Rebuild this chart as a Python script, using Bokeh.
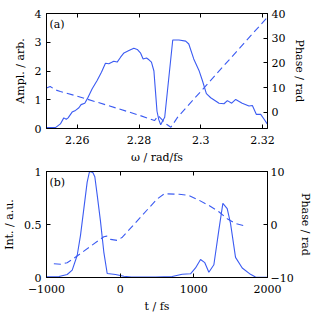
from bokeh.plotting import figure
from bokeh.layouts import column
from bokeh.models import (Range1d, LinearAxis, FixedTicker, CustomJSTickFormatter, Label,
                          CustomLabelingPolicy)
from bokeh.embed import file_html
from bokeh.resources import INLINE

# ---- Panel (a): spectral amplitude and phase ----
omega_amp = [2.2500, 2.2529, 2.2545, 2.2556, 2.2564, 2.2570, 2.2583, 2.2594, 2.2605, 2.2612,
             2.2624, 2.2632, 2.2648, 2.2664, 2.2678, 2.2691, 2.2702, 2.2713, 2.2718, 2.2729,
             2.2740, 2.2751, 2.2767, 2.2783, 2.2794, 2.2805, 2.2813, 2.2824, 2.2832, 2.2840,
             2.2848, 2.2853, 2.2858, 2.2864, 2.2870, 2.2877, 2.2883, 2.2909, 2.2929, 2.2951,
             2.2961, 2.2977, 2.2994, 2.3005, 2.3018, 2.3032, 2.3059, 2.3075, 2.3086, 2.3100,
             2.3113, 2.3134, 2.3156, 2.3167, 2.3180, 2.3194, 2.3204, 2.3215]
amplitude = [0.03, 0.03, 0.16, 0.37, 0.32, 0.37, 0.57, 0.63, 0.72, 0.83,
             0.88, 1.03, 1.38, 1.67, 1.96, 2.27, 2.25, 2.31, 2.34, 2.31,
             2.48, 2.63, 2.71, 2.79, 2.75, 2.62, 2.42, 2.45, 2.39, 2.31,
             2.00, 1.30, 0.60, 0.30, 0.13, 0.28, 0.39, 3.08, 3.08, 3.04,
             2.94, 2.42, 2.02, 1.67, 1.21, 1.07, 0.88, 0.86, 0.97, 0.88,
             1.01, 0.88, 0.78, 0.80, 0.49, 0.49, 0.34, 0.16]
omega_phase = [2.2500, 2.2512, 2.2530, 2.2545, 2.2600, 2.2700, 2.2800, 2.2850, 2.2862,
               2.2890, 2.2903, 2.2925, 2.3215]
phase_a = [9.8, 10.4, 9.0, 8.4, 6.5, 2.7, -1.2, -3.4, -1.4, -5.0, -6.1, -2.0, 38.4]

xticks_a = [2.26, 2.28, 2.3, 2.32]
yticks_a = [0, 1, 2, 3, 4]
y2ticks_a = [0, 10, 20, 30, 40]

# ---- Panel (b): temporal intensity and phase ----
t_int = [-1000, -830, -719, -651, -583, -538, -493, -448, -416, -371, -344, -312, -267, -222,
         -176, -63, 50, 150, 480, 706, 842, 955, 1023, 1091, 1149, 1204, 1272, 1340, 1394,
         1453, 1498, 1566, 1657, 1769, 1837, 2000]
intensity = [0.007, 0.01, 0.028, 0.07, 0.21, 0.40, 0.65, 0.90, 1.0, 0.99, 0.95, 0.78, 0.53, 0.24,
             0.038, 0.028, 0.012, 0.005, 0.005, 0.01, 0.03, 0.035, 0.09, 0.17, 0.14, 0.05, 0.12,
             0.45, 0.70, 0.65, 0.51, 0.19, 0.09, 0.03, 0.005, 0.003]
t_phase = [-900, -800, -720, -650, -222, -180, -130, -40, 30, 500, 600, 800, 930, 1068,
           1204, 1340, 1453, 1566, 1720]
phase_b = [-7.4, -7.5, -7.2, -6.6, -2.3, -2.2, -2.8, -3.0, -2.4, 4.8, 5.8, 5.7, 5.5, 4.6,
           3.6, 2.4, 1.1, 0.2, -0.4]

xticks_b = [-1000, 0, 1000, 2000]
yticks_b = [0, 0.5, 1]
y2ticks_b = [-10, 0, 10]

FONT = "DejaVu Serif"
FS = "11px"
BLUE = "#3b5bf2"


def fmt():
    return CustomJSTickFormatter(code="return String(tick).replace('-', '\u2212');")


def style_axis(ax, ticks, show_labels=True):
    ax.ticker = FixedTicker(ticks=ticks)
    ax.formatter = fmt()
    if show_labels:
        ax.major_label_text_font_size = FS
    else:
        ax.major_label_text_font_size = "1px"
        ax.major_label_policy = CustomLabelingPolicy(
            code="for (const i of Array.from(indices)) { indices.unset(i) }")
    ax.major_tick_in = 4
    ax.major_tick_out = 0
    ax.minor_tick_line_color = None
    ax.axis_line_color = "black"
    ax.major_tick_line_color = "black"
    ax.major_label_text_font = FONT
    ax.major_label_text_color = "black"
    ax.axis_label_text_font = FONT
    ax.axis_label_text_font_size = FS
    ax.axis_label_text_font_style = "normal"
    ax.axis_label_text_color = "black"


def panel(xr, yr, y2r, xt, yt, y2t, xlabel, ylabel, y2label, tag, fh, top, bottom,
          r_std, r_lbl_std):
    p = figure(frame_width=221, frame_height=fh,
               x_range=Range1d(*xr), y_range=Range1d(*yr),
               output_backend="svg", toolbar_location=None,
               min_border_left=46, min_border_right=45,
               min_border_top=top, min_border_bottom=bottom)
    p.extra_y_ranges = {"ph": Range1d(*y2r)}
    p.grid.visible = False
    p.outline_line_color = "black"
    p.background_fill_color = "white"
    p.border_fill_color = "white"

    style_axis(p.xaxis[0], xt)
    p.xaxis.axis_label = xlabel
    p.xaxis.major_label_standoff = 7
    p.xaxis.axis_label_standoff = 4

    style_axis(p.yaxis[0], yt)
    p.yaxis.axis_label = ylabel
    p.yaxis.major_label_standoff = 5
    p.yaxis.axis_label_standoff = 5

    ra = LinearAxis(y_range_name="ph", axis_label=y2label)
    style_axis(ra, y2t)
    ra.major_label_standoff = r_std
    ra.axis_label_standoff = r_lbl_std
    p.add_layout(ra, "right")

    ta = LinearAxis()
    style_axis(ta, xt, show_labels=False)
    ta.major_label_standoff = 0
    p.add_layout(ta, "above")

    p.add_layout(Label(x=xr[0], y=yr[1], x_offset=3, y_offset=-4, text=tag,
                       text_baseline="top", text_font=FONT, text_font_size=FS,
                       text_color="black"))
    return p


p1 = panel((2.25, 2.3216), (0, 4), (-6.6, 40), xticks_a, yticks_a, y2ticks_a,
           "\u03c9 / rad/fs", "Ampl. / arb.", "Phase / rad", "(a)", 115, 13, 38, 4, 5)
p1.line(omega_amp, amplitude, line_color=BLUE, line_width=1.1)
p1.line(omega_phase, phase_a, y_range_name="ph", line_color=BLUE, line_width=1.1,
        line_dash="7 4")

p2 = panel((-1000, 2000), (0, 1), (-10, 10), xticks_b, yticks_b, y2ticks_b,
           "t / fs", "Int. / a.u.", "Phase / rad", "(b)", 106, 5, 36, 3, 2)
p2.line(t_int, intensity, line_color=BLUE, line_width=1.1)
p2.line(t_phase, phase_b, y_range_name="ph", line_color=BLUE, line_width=1.1,
        line_dash="7 4")

layout = column(p1, p2, spacing=0)
open("out.html", "w").write(file_html(layout, INLINE))
